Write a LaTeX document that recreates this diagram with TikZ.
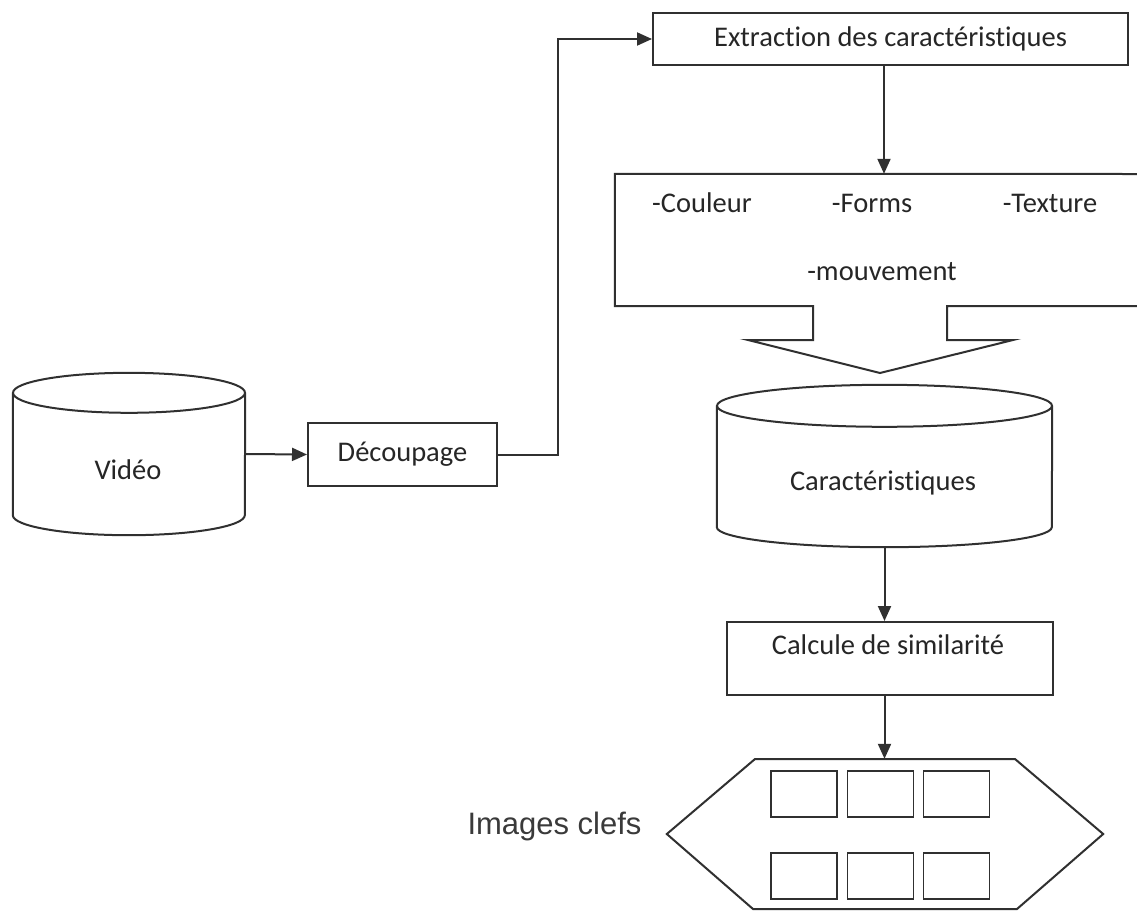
\documentclass[tikz,border=0pt]{standalone}
\usepackage{fontspec}
\setmainfont{Carlito}[Ligatures={NoCommon}]
\newfontfamily\arialfont{Liberation Sans}
\usetikzlibrary{arrows.meta,calc}
\definecolor{ln}{HTML}{303030}
\definecolor{tx}{HTML}{262626}
\definecolor{tx2}{HTML}{3A3A3A}
\begin{document}
\begin{tikzpicture}[x=1pt,y=1pt,
  every node/.style={text=tx, font=\fontsize{28.5}{32}\selectfont},
  box/.style={draw=ln, line width=2pt, inner sep=0pt},
  ghost/.style={draw=none, inner sep=0pt},
  ln/.style={draw=ln, line width=2pt},
  arr/.style={ln, -{Triangle[length=15pt,width=13pt]}},
  small/.style={draw=ln, line width=1.8pt, minimum width=66pt, minimum height=46pt, inner sep=0pt}]
\useasboundingbox (0,0) rectangle (1137,-911);
\fill[white] (0,0) rectangle (1137,-911);

% Video cylinder
\node[ghost, minimum width=232pt, minimum height=162pt] (video) at (129,-454) {};
\draw[ln] ([yshift=-20pt]video.north west) -- ([yshift=20pt]video.south west)
  arc[start angle=180, end angle=360, x radius=116pt, y radius=20pt]
  -- ([yshift=-20pt]video.north east);
\draw[ln] ([yshift=-20pt]video.north) ellipse[x radius=116pt, y radius=20pt];
\node (videot) at (128,-470) {Vidéo};

% Decoupage
\node[box, minimum width=189pt, minimum height=63pt] (decoupage) at (402.5,-454.5) {Découpage};

% Extraction
\node[box, minimum width=475pt, minimum height=52pt] (extraction) at (890.5,-39) {Extraction des caractéristiques};

% Feature block arrow
\node[ghost, minimum width=522pt, minimum height=132pt] (feat) at (876,-240) {};
\draw[ln, line join=miter] (1137,-174) -- (feat.north west) -- (feat.south west) -- (813,-306) -- (813,-340) -- (748,-340)
  -- (880,-373) coordinate (tip) -- (1013,-340) -- (947,-340) -- (947,-306) -- (1137,-306);
\node (couleur) at (702,-203) {-Couleur};
\node (forms) at (872,-203) {-Forms};
\node (texture) at (1050,-203) {-Texture};
\node (mouv) at (882,-272) {-mouvement};

% Caracteristiques cylinder
\node[ghost, minimum width=335pt, minimum height=162pt] (carac) at (884.5,-466) {};
\draw[ln] ([yshift=-21pt]carac.north west) -- ([yshift=20pt]carac.south west)
  arc[start angle=180, end angle=360, x radius=167.5pt, y radius=20pt]
  -- ([yshift=-21pt]carac.north east);
\draw[ln] ([yshift=-21pt]carac.north) ellipse[x radius=167.5pt, y radius=21pt];
\node (caract) at (883,-483) {Caractéristiques};

% Calcule
\node[box, minimum width=326pt, minimum height=73pt] (calc) at (890,-658.5) {};
\node (calct) at (888,-645) {Calcule de similarité};

% Hexagon
\node[ghost, minimum width=436pt, minimum height=150pt] (hex) at (885,-834) {};
\draw[ln, line join=miter] (755,-759) -- (1015,-759) -- (hex.east) -- (1017,-909) -- (753,-909) -- (hex.west) -- cycle;
\node[small] (r1) at (804,-794) {};
\node[small] (r2) at (880.5,-794) {};
\node[small] (r3) at (956.5,-794) {};
\node[small] (r4) at (804,-876) {};
\node[small] (r5) at (880.5,-876) {};
\node[small] (r6) at (956.5,-876) {};
\node[text=tx2, font=\arialfont\fontsize{31}{34}\selectfont] (imgs) at (554.5,-826) {Images clefs};

% Connectors
\draw[arr] (video.east) -- (decoupage.west);
\draw[arr] (decoupage.east) -- ++(60,0) |- (extraction.west);
\draw[arr] (extraction.south -| 884,0) -- (feat.north -| 884,0);
\draw[arr] (carac.south) -- (carac.south |- calc.north);
\draw[arr] (calc.south -| carac.south) -- (hex.north -| carac.south) ;
\end{tikzpicture}
\end{document}
